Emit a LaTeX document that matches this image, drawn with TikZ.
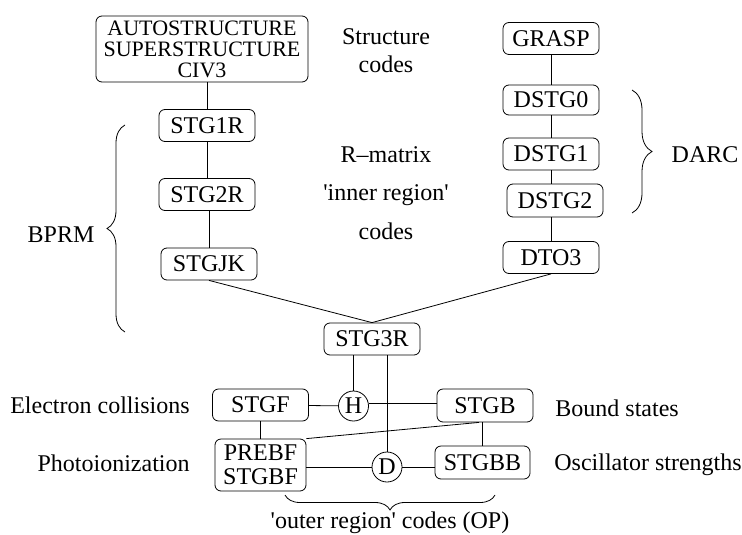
\documentclass[tikz,border=0pt]{standalone}
\usepackage{fontspec}
\setmainfont{Liberation Serif}
\usetikzlibrary{positioning,decorations.pathreplacing}

\begin{document}
\begin{tikzpicture}[x=0.5pt,y=-0.5pt,
  every node/.style={font=\fontsize{12}{14.4}\selectfont},
  code/.style={draw,rounded corners=3pt,align=center,inner sep=0pt,
    minimum width=48pt,minimum height=16pt},
  junction/.style={draw,circle,inner sep=0pt,minimum size=15pt},
  lbl/.style={inner sep=0pt},
  curly/.style={decorate,decoration={brace,amplitude=#1}}
]
\useasboundingbox (0,0) rectangle (742,534);

% structure and inner region codes
\node[code,minimum width=106pt,minimum height=33pt,
  font=\fontsize{11}{10.5}\selectfont] (auto) at (202,49)
  {AUTOSTRUCTURE\\SUPERSTRUCTURE\\CIV3};
\node[code] (stg1r) at (207,125.5) {STG1R};
\node[code] (stg2r) at (207,194.5) {STG2R};
\node[code] (stgjk) at (209,264) {STGJK};

\node[code] (grasp) at (551,38.5) {GRASP};
\node[code,minimum height=15pt] (dstg0) at (551,100) {DSTG0};
\node[code] (dstg1) at (551,154) {DSTG1};
\node[code,minimum height=16.5pt] (dstg2) at (555,200.5) {DSTG2};
\node[code] (dto3) at (551,257.5) {DTO3};

\node[code] (stg3r) at (372,339) {STG3R};

% outer region codes
\node[code] (stgf) at (260.5,405) {STGF};
\node[junction] (h) at (353.5,406) {H};
\node[code,minimum height=16.5pt] (stgb) at (485,405.5) {STGB};
\node[code,minimum width=45.5pt,minimum height=26pt,
  font=\fontsize{12}{12}\selectfont] (prebf) at (260.5,465) {PREBF\\STGBF};
\node[junction] (d) at (387,467) {D};
\node[code,minimum width=47.5pt,minimum height=16.5pt] (stgbb) at (482.5,462.5) {STGBB};

% labels
\node[align=center,font=\fontsize{12}{14}\selectfont] (structlbl) at (386,51) {Structure\\codes};
\node[align=center] (innerlbl) at (386,193)
  {R--matrix\\[5pt]\textquotesingle inner region\textquotesingle\\[5pt]codes};
\node (bprm) at (61,235) {BPRM};
\node (darc) at (705,155) {DARC};
\node[lbl,anchor=east] (ecoll) at (190,405) {Electron collisions};
\node[lbl,anchor=east] (photo) at (190,463) {Photoionization};
\node[lbl,anchor=west] (bound) at (555,408) {Bound states};
\node[lbl,anchor=west] (osc) at (554,465) {Oscillator strengths};
\node (outerlbl) at (390,523) {\textquotesingle outer region\textquotesingle{} codes (OP)};

% connectors
\draw (stg1r.north) -- (stg1r.north |- auto.south);
\draw (stg1r) -- (stg2r);
\draw (stgjk.north) -- (stgjk.north |- stg2r.south);
\draw (grasp) -- (dstg0);
\draw (dstg0) -- (dstg1);
\draw (dstg1.south) -- (dstg1.south |- dstg2.north);
\draw (dto3.north) -- (dto3.north |- dstg2.south);
\draw (stgjk.south) -- (stg3r.north);
\draw (dto3.south) -- (stg3r.north);
\draw (h.north) -- (h.north |- stg3r.south);
\draw (d.north) -- (d.north |- stg3r.south);
\draw (stgf) -- (h);
\draw (h.10) -- (h.10 -| stgb.west);
\draw (stgf) -- (prebf);
\draw (prebf.north east) -- ([xshift=-3pt]stgb.south);
\draw (stgbb.north) -- (stgbb.north |- stgb.south);
\draw (prebf.east |- d) -- (d);
\draw (d) -- (d -| stgbb.west);

% braces
\coordinate (bprmtop) at (125,125);
\coordinate (bprmbot) at (125,332);
\coordinate (darctop) at (632,90);
\coordinate (darcbot) at (632,213);
\coordinate (opleft) at (285,495);
\coordinate (opright) at (495,495);
\draw[curly=9pt] (bprmbot) -- (bprmtop);
\draw[curly=10pt] (darctop) -- (darcbot);
\draw[curly=7.5pt] (opright) -- (opleft);
\end{tikzpicture}
\end{document}
